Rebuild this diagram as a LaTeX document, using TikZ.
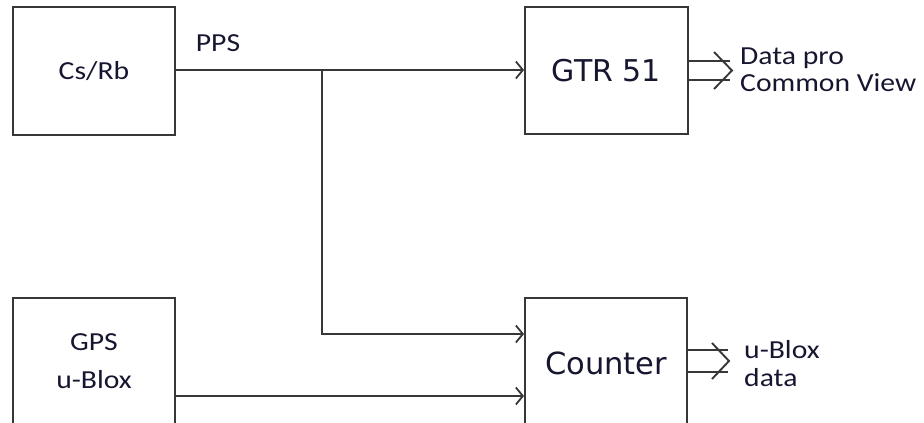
\documentclass[tikz,border=0pt]{standalone}
\usepackage{fontspec}
\setmainfont[FakeStretch=1.14]{Carlito}
\newfontfamily\verd{DejaVu Sans}
\usetikzlibrary{arrows.meta}
\definecolor{txt}{RGB}{22,22,48}
\definecolor{ln}{RGB}{55,55,55}
\tikzset{
  blk/.style={draw=ln, line width=1.9pt, rectangle, inner sep=0pt, text=txt, align=center},
  lbl/.style={text=txt, inner sep=0pt, align=left, anchor=west},
  wire/.style={draw=ln, line width=1.9pt},
  arr/.style={wire, -{Straight Barb[length=7pt,width=17pt,line width=1.8pt]}},
}
\begin{document}
\begin{tikzpicture}[x=1pt,y=-1pt]
\useasboundingbox (0,0) rectangle (924,423);
\clip (0,0) rectangle (924,423);
\node[blk, minimum width=162pt, minimum height=128pt, font=\fontsize{26}{30}\selectfont] (cs) at (94,71) {Cs/Rb};
\node[blk, minimum width=163pt, minimum height=127pt, font=\verd\fontsize{30}{32}\selectfont] (gtr) at (606.5,70.5) {GTR 51};
\node[blk, minimum width=162pt, minimum height=126pt, font=\fontsize{26}{38}\selectfont] (gps) at (94,361) {GPS\\u-Blox};
\node[blk, minimum width=162pt, minimum height=130pt, font=\verd\fontsize{30.5}{32}\selectfont] (cnt) at (606,363) {Counter};
\node[text=txt, inner sep=0pt, font=\fontsize{26}{30}\selectfont] (pps) at (218,43) {PPS};
\coordinate (j) at (322,70);
\draw[wire] (cs.east |- j) -- (j);
\draw[arr] (j) -- (gtr.west |- j);
\draw[arr] (j) |- (cnt.west |- 0,334);
\draw[arr] (gps.east |- 0,396) -- (cnt.west |- 0,396);
% double arrows
\coordinate (g1) at (gtr.east |- 0,61);
\coordinate (g2) at (gtr.east |- 0,80);
\draw[wire] (g1) -- ++(41,0);
\draw[wire] (g2) -- ++(41,0);
\draw[wire, line join=miter] (714,52) -- (732,70.5) -- (714,89);
\node[lbl, font=\fontsize{26}{27}\selectfont] (d1) at (740,70) {Data pro\\Common View};
\coordinate (c1) at (cnt.east |- 0,350);
\coordinate (c2) at (cnt.east |- 0,372);
\draw[wire] (c1) -- ++(40,0);
\draw[wire] (c2) -- ++(40,0);
\draw[wire, line join=miter] (712,343) -- (729,361) -- (712,379);
\node[lbl, font=\fontsize{26}{28}\selectfont] (d2) at (744,364) {u-Blox\\data};
\end{tikzpicture}
\end{document}
